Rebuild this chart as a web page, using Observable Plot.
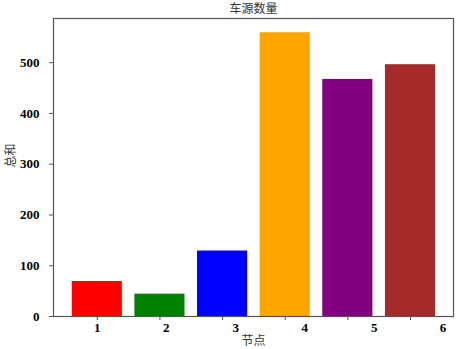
<!DOCTYPE html>
<html><head><meta charset="utf-8">
<script src="https://cdn.jsdelivr.net/npm/d3@7"></script>
<script src="https://cdn.jsdelivr.net/npm/@observablehq/plot@0.6"></script>
<style>body{margin:0;background:#fff}</style>
</head><body><div id="chart"></div>
<script>
const nodes = [1, 2, 3, 4, 5, 6];
const totals = [69, 44, 129, 559, 467, 496];
const colors = ["red", "green", "blue", "orange", "purple", "brown"];
const xTickLabels = ["1", "2", "3", "4", "5", "6"];
const xLabelPos = [1, 2.1, 3.21, 4.31, 5.42, 6.52];
const yTicks = [0, 100, 200, 300, 400, 500];
const title = "车源数量";
const xTitle = "节点";
const yTitle = "总和";

const data = nodes.map((n, i) => ({node: n, value: totals[i], color: colors[i]}));
const labels = xTickLabels.map((t, i) => ({pos: xLabelPos[i], text: t}));
const serif = "'Liberation Serif','DejaVu Serif',serif";
const cjk = "'Noto Sans CJK SC',sans-serif";

const chart = Plot.plot({
  width: 464, height: 349,
  marginTop: 18, marginBottom: 33, marginLeft: 53, marginRight: 11,
  style: {fontFamily: serif, fontSize: "13px", color: "#000", background: "#fff", overflow: "visible"},
  x: {domain: [0.3, 6.687]},
  y: {domain: [0, 587]},
  color: {type: "identity"},
  marks: [
    Plot.rect(data, {x1: d => d.node - 0.4, x2: d => d.node + 0.4, y1: 0, y2: "value", fill: "color"}),
    Plot.frame({stroke: "#555", strokeWidth: 1.2}),
    Plot.axisY({ticks: yTicks, tickSize: 4, tickPadding: 10, fontWeight: "bold", fontSize: 13, stroke: "#555",
      label: null}),
    Plot.axisX({ticks: nodes, tickSize: 4, tickFormat: () => "", stroke: "#555", label: null}),
    Plot.text(labels, {x: "pos", text: "text", frameAnchor: "bottom", lineAnchor: "middle", dy: 11, fontWeight: "bold", fontSize: 13}),
    Plot.text([xTitle], {frameAnchor: "bottom", lineAnchor: "middle", dy: 25, fontFamily: cjk, fontSize: 12, fill: "#333"}),
    Plot.text([title], {frameAnchor: "top", lineAnchor: "middle", dy: -9.5, fontFamily: cjk, fontSize: 12, fill: "#333"}),
    Plot.text([yTitle], {frameAnchor: "left", dx: -42, rotate: -90, fontFamily: cjk, fontSize: 12, fill: "#333"})
  ]
});
document.getElementById("chart").append(chart);
</script></body></html>
